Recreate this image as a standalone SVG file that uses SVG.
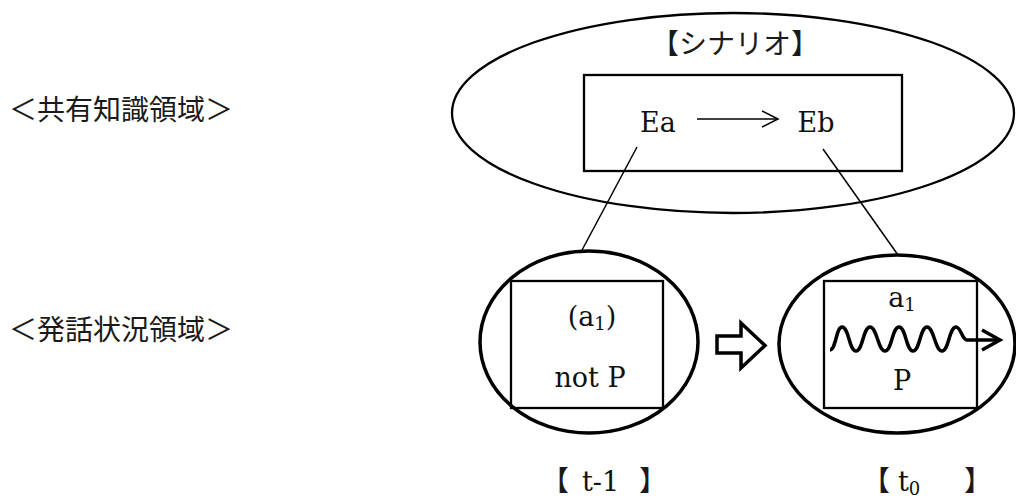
<svg xmlns="http://www.w3.org/2000/svg" width="1016" height="499" viewBox="0 0 1016 499">
<style>
.bg{fill:#fff}
.shape{fill:none;stroke:#000;stroke-width:2.3}
.thick{fill:none;stroke:#000;stroke-width:3.5}
.conn{fill:none;stroke:#000;stroke-width:1.5}
.jp{font-family:"Noto Sans CJK JP","Noto Sans CJK SC",sans-serif;font-size:28px;fill:#1a1a1a}
.lat{font-family:"DejaVu Serif","Liberation Serif",serif;font-size:27px;fill:#111}
.sub{font-size:18px}
</style>
<rect class="bg" x="0" y="0" width="1016" height="499"/>

<g id="label-shared">
<text class="jp" x="9" y="120">＜共有知識領域＞</text>
</g>
<g id="label-utterance">
<text class="jp" x="9" y="340">＜発話状況領域＞</text>
</g>

<g id="scenario">
<ellipse class="shape" cx="733" cy="113" rx="281" ry="100"/>
<text class="jp" x="735" y="54" text-anchor="middle">【シナリオ】</text>
<rect class="shape" x="584" y="75" width="318" height="96"/>
<text class="lat" x="658" y="132" text-anchor="middle">Ea</text>
<text class="lat" x="816" y="132" text-anchor="middle">Eb</text>
<line class="conn" x1="697" y1="119" x2="777" y2="119"/>
<polyline class="conn" points="762,111 778,119 762,127"/>
</g>

<g id="connectors">
<line class="conn" x1="637" y1="147" x2="581" y2="252"/>
<line class="conn" x1="823" y1="149" x2="898" y2="255"/>
</g>

<g id="state-t-1">
<ellipse class="thick" cx="589" cy="342" rx="109" ry="91"/>
<rect class="shape" x="511" y="281" width="152" height="127"/>
<text class="lat" x="592" y="326" text-anchor="middle">(a<tspan class="sub" dy="4">1</tspan><tspan dy="-4">)</tspan></text>
<text class="lat" x="590" y="387" text-anchor="middle">not P</text>
</g>

<g id="transition">
<polygon class="thick" fill="#fff" points="717,336 741,336 741,323 765,345.5 741,368 741,353 717,353"/>
</g>

<g id="state-t0">
<ellipse class="thick" cx="897" cy="344" rx="118" ry="89"/>
<rect class="shape" x="824" y="281" width="153" height="127"/>
<text class="lat" x="902" y="307" text-anchor="middle">a<tspan class="sub" dy="4">1</tspan></text>
<path class="thick" d="M830,350 C836,350 836,327 842,327 C849,327 849,351 856,351 C863,351 863,327 870,327 C877,327 878,351 885,351 C892,351 892,327 899,327 C906,327 906,351 913,351 C920,351 920,327 927,327 C934,327 935,351 942,351 C949,351 949,327 956,327 C961,327 962,340 967,340 L998,340"/>
<polyline class="thick" points="982,330 1000,340 982,350"/>
<text class="lat" x="902" y="390" text-anchor="middle">P</text>
</g>

<g id="time-labels">
<text class="jp" x="541" y="491">【</text>
<text class="lat" x="582" y="491">t-1</text>
<text class="jp" x="639" y="491">】</text>
<text class="jp" x="862" y="491">【</text>
<text class="lat" x="898" y="491">t<tspan class="sub" dy="4">0</tspan></text>
<text class="jp" x="964" y="491">】</text>
</g>
</svg>
